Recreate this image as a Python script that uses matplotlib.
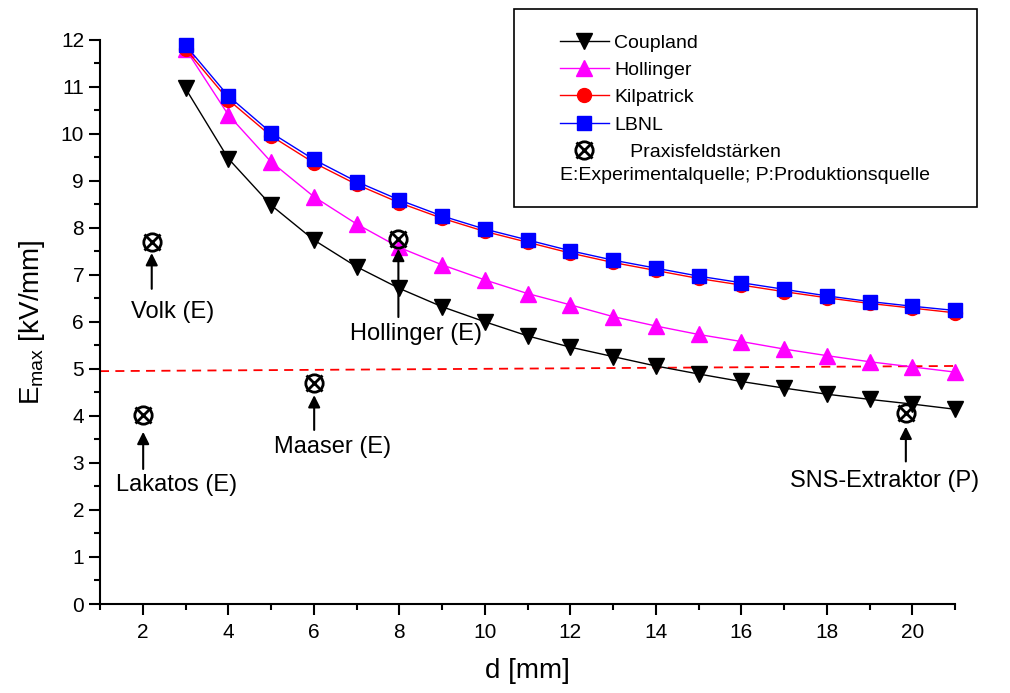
import matplotlib
matplotlib.use('Agg')
import matplotlib.pyplot as plt
from matplotlib.ticker import MultipleLocator
from matplotlib.legend_handler import HandlerTuple
from matplotlib.patches import Rectangle

plt.rcParams['font.family'] = ['Liberation Sans', 'DejaVu Sans']
plt.rcParams['mathtext.default'] = 'regular'

# gap distance d [mm]
d = list(range(3, 22))

# maximum field strength [kV/mm] per model
coupland = [10.96, 9.47, 8.48, 7.74, 7.17, 6.71, 6.32, 6.00, 5.70, 5.46,
            5.26, 5.06, 4.89, 4.73, 4.59, 4.46, 4.35, 4.25, 4.14]
hollinger = [11.80, 10.40, 9.40, 8.66, 8.08, 7.58, 7.21, 6.89, 6.60, 6.36,
             6.11, 5.91, 5.73, 5.58, 5.42, 5.28, 5.15, 5.04, 4.93]
kilpatrick = [11.80, 10.72, 9.95, 9.38, 8.92, 8.53, 8.20, 7.92, 7.69, 7.46,
              7.26, 7.09, 6.92, 6.78, 6.64, 6.51, 6.39, 6.29, 6.19]
lbnl = [11.88, 10.80, 10.02, 9.45, 8.98, 8.59, 8.25, 7.97, 7.74, 7.51,
        7.31, 7.14, 6.97, 6.83, 6.69, 6.55, 6.43, 6.33, 6.24]

# practical field strengths of real sources
praxis_names = ['Volk (E)', 'Lakatos (E)', 'Maaser (E)', 'Hollinger (E)', 'SNS-Extraktor (P)']
praxis_d = [2.21, 2.01, 6.01, 7.98, 19.85]
praxis_e = [7.70, 4.02, 4.69, 7.75, 4.05]

# reference line (dashed)
ref_d = [1, 21]
ref_e = [4.95, 5.06]

# annotation placement
arrow_tip = [7.46, 3.66, 4.44, 7.55, 3.77]
arrow_tail = [6.70, 2.87, 3.70, 6.10, 3.03]
label_x = [2.70, 2.80, 6.45, 8.39, 19.36]
label_y = [6.21, 2.53, 3.34, 5.74, 2.61]

fig = plt.figure(figsize=(10.1, 6.93), dpi=100)
ax = fig.add_axes([100 / 1010, 1 - 604 / 693, 855 / 1010, 564.5 / 693])

ax.plot(ref_d, ref_e, color='red', ls=(0, (5, 3.5)), lw=1.3)

l1, = ax.plot(d, coupland, color='black', lw=1, marker='v', ms=11,
              mfc='black', mec='black', label='Coupland', clip_on=False)
l2, = ax.plot(d, hollinger, color='magenta', lw=1, marker='^', ms=11,
              mfc='magenta', mec='magenta', label='Hollinger', clip_on=False)
l3, = ax.plot(d, kilpatrick, color='red', lw=1, marker='o', ms=10,
              mfc='red', mec='red', label='Kilpatrick', clip_on=False)
l4, = ax.plot(d, lbnl, color='blue', lw=1, marker='s', ms=10,
              mfc='blue', mec='blue', label='LBNL', clip_on=False)

p1, = ax.plot(praxis_d, praxis_e, ls='none', marker='o', ms=12.5,
              mfc='none', mec='black', mew=2)
p2, = ax.plot(praxis_d, praxis_e, ls='none', marker='x', ms=11.5,
              mec='black', mew=2)

for x, tip, tail, lx, ly, name in zip(praxis_d, arrow_tip, arrow_tail,
                                      label_x, label_y, praxis_names):
    ax.annotate('', xy=(x, tip), xytext=(x, tail),
                arrowprops=dict(arrowstyle='-|>', color='black', lw=1.5,
                                mutation_scale=18, shrinkA=0, shrinkB=0))
    ax.text(lx, ly, name, ha='center', va='center', fontsize=17)

ax.set_xlim(1, 21)
ax.set_ylim(0, 12)
ax.xaxis.set_major_locator(MultipleLocator(2))
ax.xaxis.set_minor_locator(MultipleLocator(1))
ax.yaxis.set_major_locator(MultipleLocator(1))
ax.yaxis.set_minor_locator(MultipleLocator(0.5))
ax.tick_params(which='major', direction='out', length=8, width=1.5, labelsize=15)
ax.tick_params(which='minor', direction='out', length=4, width=1.5)
ax.tick_params(axis='x', which='major', pad=6)
for s in ['top', 'right']:
    ax.spines[s].set_visible(False)
for s in ['left', 'bottom']:
    ax.spines[s].set_linewidth(1.5)

ax.set_xlabel('d [mm]', fontsize=20, labelpad=11)
ax.set_ylabel('E$_{max}$ [kV/mm]', fontsize=20, labelpad=10)

leg = ax.legend([l1, l2, l3, l4, (p1, p2)],
                ['Coupland', 'Hollinger', 'Kilpatrick', 'LBNL', '   Praxisfeldstärken'],
                handler_map={tuple: HandlerTuple(ndivide=1, pad=0)},
                loc='upper left', bbox_to_anchor=(560 / 1010, 1 - 34 / 693),
                bbox_transform=fig.transFigure, frameon=False, fontsize=14,
                handlelength=2.5, handletextpad=0.3, labelspacing=0.5,
                borderpad=0, borderaxespad=0, numpoints=1)
fig.text(560 / 1010, 1 - 176 / 693, 'E:Experimentalquelle; P:Produktionsquelle',
         fontsize=14, va='center', ha='left')
fig.add_artist(Rectangle((514 / 1010, 1 - 207 / 693), 463 / 1010, 198 / 693,
                         transform=fig.transFigure, fill=False, ec='black', lw=1.2))

fig.savefig('out.png', dpi=100)
